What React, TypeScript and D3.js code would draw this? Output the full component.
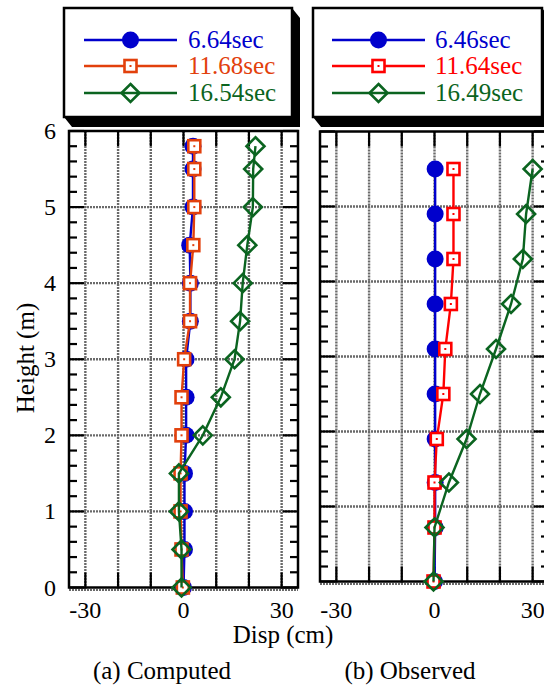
import React from "react";
import * as d3 from "d3";

// ---- data ----
const heightsA = [0, 0.5, 1, 1.5, 2, 2.5, 3, 3.5, 4, 4.5, 5, 5.5, 5.8];
const compA1 = [0, 0.3, 0.3, 0.3, 0.8, 0.8, 0.8, 2.1, 2.1, 1.9, 2.9, 2.9, 2.9];
const compA2 = [-0.2, -0.6, -0.9, -0.9, -0.6, -0.6, 0.2, 2.0, 2.0, 3.0, 3.3, 3.3, 3.3];
const compA3 = [-0.6, -0.6, -1.4, -1.4, 5.9, 11.4, 15.6, 17.3, 18.1, 19.5, 21.2, 21.3, 22.0];
const labelsA = ["6.64sec", "11.68sec", "16.54sec"];

const heightsB = [0, 0.72, 1.32, 1.9, 2.5, 3.1, 3.7, 4.3, 4.9, 5.5];
const obsB1 = [0, 0.2, 0.2, 0.2, 0.2, 0.2, 0.2, 0.2, 0.2, 0.2];
const obsB2 = [-0.3, 0, 0, 0.7, 2.7, 3.3, 5.0, 5.8, 5.8, 5.8];
const obsB3 = [-0.3, 0, 4.4, 9.8, 13.9, 18.8, 23.4, 27.0, 28.0, 30.0];
const labelsB = ["6.46sec", "11.64sec", "16.49sec"];

const xTicks = [-30, -20, -10, 0, 10, 20, 30];
const xTickLabels = [-30, 0, 30];
const yTicks = [0, 1, 2, 3, 4, 5, 6];
const yMinor = d3.range(0, 6.001, 0.2);

const FONT = "Liberation Serif, Tinos, DejaVu Serif, Times New Roman, serif";
const BLUE = "#0000cc";
const GREEN = "#0b6420";
const RED_A = "#e2400c";
const RED_B = "#ff0000";
const GRID = "#6a6a6a";

type Panel = {
  x0: number; x1: number; yTop: number; yBot: number;
  heights: number[]; series: number[][]; red: string;
};

function Marker({ kind, x, y, color }: { kind: number; x: number; y: number; color: string }) {
  if (kind === 0) return <circle cx={x} cy={y} r={8.5} fill={color} />;
  if (kind === 1)
    return (
      <g>
        <rect x={x - 6} y={y - 6} width={12} height={12} fill="#fff" stroke={color} strokeWidth={2.6} />
        <rect x={x - 1} y={y - 1} width={2} height={2} fill={color} />
      </g>
    );
  const s = 9;
  return (
    <path d={`M${x},${y - s}L${x + s},${y}L${x},${y + s}L${x - s},${y}Z`} fill="none" stroke={color} strokeWidth={2.6} />
  );
}

function PlotPanel({ p, showY }: { p: Panel; showY: boolean }) {
  const xs = d3.scaleLinear().domain([-35, 35]).range([p.x0, p.x1]);
  const ys = d3.scaleLinear().domain([0, 6]).range([p.yBot, p.yTop]);
  const colors = [BLUE, p.red, GREEN];
  const line = d3
    .line<[number, number]>()
    .x((d) => xs(d[0]))
    .y((d) => ys(d[1]));
  return (
    <g>
      {/* grid */}
      {xTicks.map((t) => (
        <line key={"gx" + t} x1={xs(t)} x2={xs(t)} y1={p.yTop} y2={p.yBot + 2} stroke={GRID} strokeWidth={2.4} strokeDasharray="2,1" />
      ))}
      {yTicks.slice(1, 6).map((t) => (
        <line key={"gy" + t} x1={p.x0} x2={p.x1} y1={ys(t)} y2={ys(t)} stroke={GRID} strokeWidth={2.4} strokeDasharray="2,1" />
      ))}
      <line x1={p.x0} x2={p.x1} y1={p.yBot + 2.5} y2={p.yBot + 2.5} stroke={GRID} strokeWidth={2} strokeDasharray="2,1" />
      {/* y ticks */}
      {yMinor.map((t, i) => {
        const major = Math.abs(t - Math.round(t)) < 1e-6;
        const len = major ? 15 : 8;
        return (
          <g key={"ym" + i}>
            <line x1={p.x0} x2={p.x0 + len} y1={ys(t)} y2={ys(t)} stroke="#000" strokeWidth={2.2} />
            <line x1={p.x1} x2={p.x1 - len} y1={ys(t)} y2={ys(t)} stroke="#000" strokeWidth={2.2} />
          </g>
        );
      })}
      {xTicks.map((t) => (
        <g key={"xt" + t}>
          <line x1={xs(t)} x2={xs(t)} y1={p.yTop} y2={p.yTop + 15} stroke="#000" strokeWidth={2.2} />
          <line x1={xs(t)} x2={xs(t)} y1={p.yBot} y2={p.yBot - 15} stroke="#000" strokeWidth={2.2} />
        </g>
      ))}
      {/* frame */}
      <rect x={p.x0} y={p.yTop} width={p.x1 - p.x0} height={p.yBot - p.yTop} fill="none" stroke="#000" strokeWidth={2.5} />
      {/* series */}
      {p.series.map((vals, si) => {
        const pts = vals.map((v, i) => [v, p.heights[i]] as [number, number]);
        return (
          <g key={"s" + si}>
            <path d={line(pts) || ""} fill="none" stroke={colors[si]} strokeWidth={2.4} />
            {pts.map((d, i) => (
              <Marker key={i} kind={si} x={xs(d[0])} y={ys(d[1])} color={colors[si]} />
            ))}
          </g>
        );
      })}
      {/* x tick labels */}
      {xTickLabels.map((t) => (
        <text key={"xl" + t} x={xs(t)} y={618} textAnchor="middle" style={{ fontFamily: FONT }} fontSize={24}>
          {t}
        </text>
      ))}
      {showY &&
        yTicks.map((t) => (
          <text key={"yl" + t} x={56} y={ys(t) + 8} textAnchor="end" style={{ fontFamily: FONT }} fontSize={24}>
            {t}
          </text>
        ))}
    </g>
  );
}

function Legend({ x0, y0, x1, y1, labels, red, lx0, lx1, tx }: any) {
  const dx = 8;
  const dy = 10;
  const colors = [BLUE, red, GREEN];
  const rows = [40, 66, 93];
  const shadow = `M${x0},${y1}L${x0 + dx},${y1 + dy}L${x1 + dx},${y1 + dy}L${x1 + dx},${y0 + dy}L${x1},${y0}L${x1},${y1}Z`;
  return (
    <g>
      <path d={shadow} fill="#000" />
      <rect x={x0} y={y0} width={x1 - x0} height={y1 - y0} fill="#fff" stroke="#000" strokeWidth={2.5} />
      {labels.map((l: string, i: number) => (
        <g key={l}>
          <line x1={lx0} x2={lx1} y1={rows[i]} y2={rows[i]} stroke={colors[i]} strokeWidth={2.4} />
          <Marker kind={i} x={(lx0 + lx1) / 2} y={rows[i]} color={colors[i]} />
          <text x={tx} y={rows[i] + 8} style={{ fontFamily: FONT }} fontSize={25} fill={colors[i]}>
            {l}
          </text>
        </g>
      ))}
    </g>
  );
}

export default function App() {
  const panelA: Panel = {
    x0: 69, x1: 298, yTop: 131, yBot: 587.5,
    heights: heightsA, series: [compA1, compA2, compA3], red: RED_A,
  };
  const panelB: Panel = {
    x0: 320, x1: 549, yTop: 131.5, yBot: 581.5,
    heights: heightsB, series: [obsB1, obsB2, obsB3], red: RED_B,
  };
  return (
    <svg width={544} height={689} style={{ position: "absolute", left: 0, top: 0, background: "#fff" }}>
      <rect width={544} height={689} fill="#fff" />
      <PlotPanel p={panelA} showY={true} />
      <PlotPanel p={panelB} showY={false} />
      <Legend x0={64} y0={8} x1={292} y1={117} labels={labelsA} red={RED_A} lx0={84} lx1={177} tx={188} />
      <Legend x0={313} y0={8} x1={542} y1={117} labels={labelsB} red={RED_B} lx0={332} lx1={425} tx={435} />
      <text x={283} y={643} textAnchor="middle" style={{ fontFamily: FONT }} fontSize={25}>
        Disp (cm)
      </text>
      <text x={162} y={679} textAnchor="middle" style={{ fontFamily: FONT }} fontSize={25}>
        (a) Computed
      </text>
      <text x={410} y={679} textAnchor="middle" style={{ fontFamily: FONT }} fontSize={25}>
        (b) Observed
      </text>
      <text transform="translate(34,358) rotate(-90)" textAnchor="middle" style={{ fontFamily: FONT }} fontSize={25}>
        Height (m)
      </text>
    </svg>
  );
}
